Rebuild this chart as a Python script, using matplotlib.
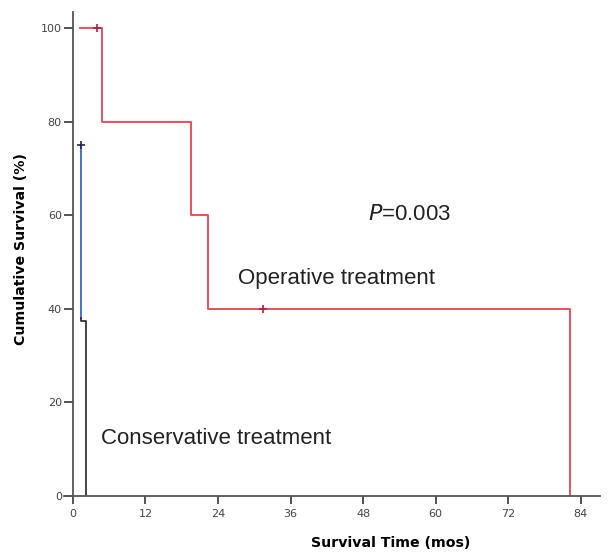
import matplotlib
matplotlib.use("Agg")
import matplotlib.pyplot as plt

plt.rcParams.update({
    "font.family": ["Liberation Sans", "DejaVu Sans"],
})

# Kaplan-Meier steps (months, % survival)
op_time = [1.2, 4.8, 4.8, 19.5, 19.5, 22.3, 22.3, 82.3, 82.3]
op_surv = [100, 100, 80, 80, 60, 60, 40, 40, 0]
op_cens_t = [4.0, 31.5]
op_cens_s = [100, 40]

cons_blue_t = [1.4, 1.4]
cons_blue_s = [75, 38]
cons_time = [1.4, 1.4, 2.2, 2.2]
cons_surv = [38, 37.5, 37.5, 0]
cons_cens_t = [1.4]
cons_cens_s = [75]

xticks = [0, 12, 24, 36, 48, 60, 72, 84]
yticks = [0, 20, 40, 60, 80, 100]

fig = plt.figure(figsize=(6.08, 5.53), dpi=100)
ax = fig.add_axes([0.105, 0.103, 0.882, 0.876])

ax.plot(op_time, op_surv, color="#e8505b", linewidth=1.4)
ax.plot(op_cens_t, op_cens_s, linestyle="none", marker="+", color="#b0203a",
        markersize=6, markeredgewidth=1.2)

ax.plot(cons_blue_t, cons_blue_s, color="#4a72c4", linewidth=1.4)
ax.plot(cons_time, cons_surv, color="#222222", linewidth=1.2)
ax.plot(cons_cens_t, cons_cens_s, linestyle="none", marker="+", color="#1a2a50",
        markersize=6, markeredgewidth=1.2)

ax.set_xlim(-1.5, 87.2)
ax.set_ylim(0, 103.5)
ax.spines["top"].set_visible(False)
ax.spines["right"].set_visible(False)
ax.spines["left"].set_position(("data", 0))
for s in ("left", "bottom"):
    ax.spines[s].set_color("#555555")
    ax.spines[s].set_linewidth(1.3)

ax.set_xticks(xticks)
ax.set_yticks(yticks)
ax.tick_params(axis="both", colors="#444444", labelsize=8, width=1.3,
               direction="out")
ax.tick_params(axis="y", length=6.5, pad=1.5)
ax.tick_params(axis="x", length=6, pad=3)
for lbl in ax.get_xticklabels() + ax.get_yticklabels():
    lbl.set_family("DejaVu Sans")

ax.set_xlabel("Survival Time (mos)", fontsize=10.2, fontweight="bold",
              family="DejaVu Sans")
ax.xaxis.set_label_coords(0.61, -0.083)
ax.set_ylabel("Cumulative Survival (%)", fontsize=10.2, fontweight="bold",
              family="DejaVu Sans")
ax.yaxis.set_label_coords(-0.066, 0.51)

ax.text(48.8, 60.2, "$P$=0.003", fontsize=16, va="center", ha="left", color="#222222")
ax.text(27.3, 46.4, "Operative treatment", fontsize=16, va="center", ha="left", color="#222222")
ax.text(4.6, 12.2, "Conservative treatment", fontsize=16, va="center", ha="left", color="#222222")

fig.savefig("out.png", dpi=100)
